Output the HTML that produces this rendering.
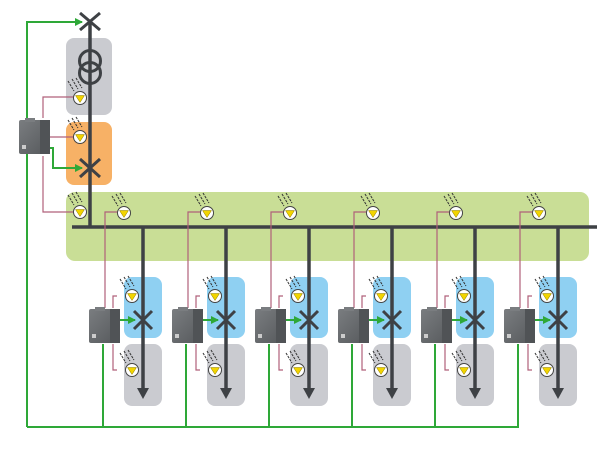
<!DOCTYPE html>
<html><head><meta charset="utf-8"><style>html,body{margin:0;padding:0;background:#fff}svg{display:block}</style></head><body>
<svg width="610" height="450" viewBox="0 0 610 450" xmlns="http://www.w3.org/2000/svg">
<defs>
<g id="sen">
<path d="M-12,-17 l6,10 M-8,-19 l6,10 M-4,-20 l6,10" stroke="#333" stroke-width="1" fill="none" stroke-dasharray="2.5,1"/>
<circle cx="0" cy="0" r="6.5" fill="#fff" stroke="#444" stroke-width="1"/>
<path d="M-4.5,-2.5 L4.5,-2.5 L0,4.5 Z" fill="#f2d400" stroke="#8a7a00" stroke-width="0.5"/>
</g>
<linearGradient id="rg" x1="0" y1="0" x2="1" y2="1"><stop offset="0" stop-color="#7a7d80"/><stop offset="1" stop-color="#55585b"/></linearGradient>
<g id="relay">
<rect x="0" y="2" width="31" height="34" rx="2" fill="url(#rg)"/>
<rect x="21" y="2" width="10" height="34" fill="#505356"/>
<rect x="6" y="0" width="10" height="4" fill="#7a7d80"/>
<rect x="3" y="27" width="4" height="4" fill="#ccc"/>
</g>
<marker id="ga" markerWidth="8" markerHeight="8" refX="7" refY="4" orient="auto" markerUnits="userSpaceOnUse"><path d="M0,0 L8,4 L0,8 Z" fill="#2ea838"/></marker>
</defs>
<rect x="66" y="38" width="46" height="77" rx="8" fill="#cacbd0"/>
<rect x="66" y="122" width="46" height="63" rx="8" fill="#f7b166"/>
<rect x="66" y="192" width="523" height="69" rx="9" fill="#c9de96"/>
<g stroke="#2ea838" stroke-width="2" fill="none">
<path d="M27,427 L27,22 L82,22" marker-end="url(#ga)"/>
<path d="M27,427 L519,427"/>
<path d="M50,148 L53,148 L53,168 L82,168" marker-end="url(#ga)"/>
</g>
<g stroke="#b0607a" stroke-width="1.2" fill="none">
<path d="M43,118 L43,97 L74,97"/>
<path d="M50,137 L74,137"/>
<path d="M43,156 L43,212 L74,212"/>
</g>
<line x1="90" y1="20" x2="90" y2="227" stroke="#3e4145" stroke-width="3.5"/>
<path d="M80,13 L100,30 M100,13 L80,30" stroke="#3e4145" stroke-width="3"/>
<circle cx="90" cy="61" r="10.5" fill="none" stroke="#3e4145" stroke-width="3"/>
<circle cx="90" cy="73" r="10.5" fill="none" stroke="#3e4145" stroke-width="3"/>
<path d="M80,159 L100,177 M100,159 L80,177" stroke="#3e4145" stroke-width="3"/>
<use href="#sen" x="80" y="98"/>
<use href="#sen" x="80" y="137"/>
<use href="#sen" x="80" y="212"/>
<use href="#relay" x="19" y="118"/>
<line x1="72" y1="227" x2="597" y2="227" stroke="#3e4145" stroke-width="3.5"/>
<g id="fd">
<rect x="124" y="277" width="38" height="61" rx="8" fill="#8fd0f2"/>
<rect x="124" y="344" width="38" height="62" rx="8" fill="#cacbd0"/>
<path d="M105,308 L105,212 L117,212 M113,308 L113,296 L117,296 M113,344 L113,370 L117,370" stroke="#b0607a" stroke-width="1.2" fill="none"/>
<line x1="103" y1="344" x2="103" y2="427" stroke="#2ea838" stroke-width="2"/>
<line x1="120" y1="320" x2="135" y2="320" stroke="#2ea838" stroke-width="2" marker-end="url(#ga)"/>
<line x1="143" y1="227" x2="143" y2="392" stroke="#3e4145" stroke-width="3.5"/>
<path d="M137,388 L143,399 L149,388 Z" fill="#3e4145"/>
<path d="M134,311 L152,329 M152,311 L134,329" stroke="#3e4145" stroke-width="3"/>
<use href="#sen" x="124" y="213"/><use href="#sen" x="132" y="296"/><use href="#sen" x="132" y="370"/>
<use href="#relay" x="89" y="307"/>
</g>
<use href="#fd" x="83"/>
<use href="#fd" x="166"/>
<use href="#fd" x="249"/>
<use href="#fd" x="332"/>
<use href="#fd" x="415"/>
</svg>
</body></html>
